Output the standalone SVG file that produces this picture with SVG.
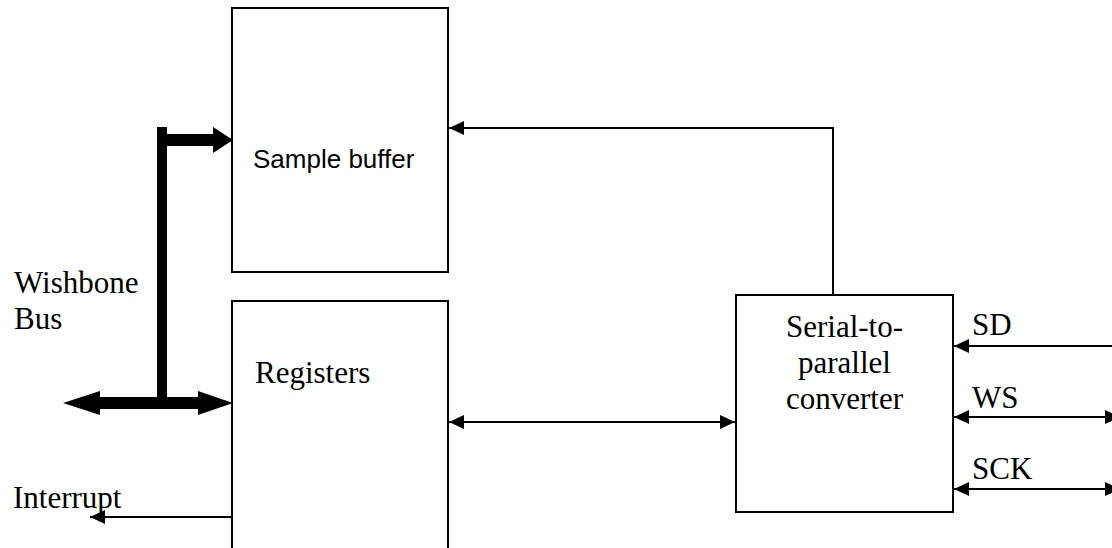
<svg xmlns="http://www.w3.org/2000/svg" width="1112" height="548" viewBox="0 0 1112 548">
<style>
.box{fill:#fff;stroke:#000;stroke-width:2}
.t{font-family:"Liberation Serif","Times New Roman",serif;font-size:31px;fill:#000}
.a{font-family:"Liberation Sans",Arial,sans-serif;font-size:26px;fill:#000}
.c{fill:none;stroke:#000;stroke-width:2}
.bus{fill:#000;stroke:none}
</style>
<defs>
<marker id="ah" markerUnits="userSpaceOnUse" markerWidth="16" markerHeight="14" refX="15" refY="7" orient="auto-start-reverse">
<path d="M0,0 L15,7 L0,14 Z" fill="#000"/>
</marker>
</defs>
<rect width="1112" height="548" fill="#fff"/>
<g id="sample-buffer">
<rect class="box" x="232" y="8" width="216" height="264"/>
<text class="a" x="253" y="168">Sample buffer</text>
</g>
<g id="registers">
<rect class="box" x="232" y="301" width="216" height="260"/>
<text class="t" x="255" y="383">Registers</text>
</g>
<g id="converter">
<rect class="box" x="736" y="295" width="217" height="217"/>
<text class="t" x="844.5" y="337" text-anchor="middle">Serial-to-</text>
<text class="t" x="844.5" y="373" text-anchor="middle">parallel</text>
<text class="t" x="844.5" y="409" text-anchor="middle">converter</text>
</g>
<g id="wishbone-bus">
<path class="bus" d="M157,127 H167 V134 H213 V127 L233,140 L213,153 V146 H167 V397 H198 V391 L233,403 L198,415 V409 H100 V415 L63,403 L100,391 V397 H157 Z"/>
<text class="t" x="14" y="293">Wishbone</text>
<text class="t" x="14" y="329">Bus</text>
</g>
<g id="labels">
<text class="t" x="13" y="508">Interrupt</text>
<text class="t" x="972" y="335">SD</text>
<text class="t" x="972" y="408">WS</text>
<text class="t" x="972" y="479">SCK</text>
</g>
<g id="connectors">
<path class="c" d="M833,295 V128 H449" marker-end="url(#ah)"/>
<path class="c" d="M449,422 H735" marker-start="url(#ah)" marker-end="url(#ah)"/>
<path class="c" d="M1112,346 H954" marker-end="url(#ah)"/>
<path class="c" d="M954,417 H1120" marker-start="url(#ah)" marker-end="url(#ah)"/>
<path class="c" d="M954,489 H1120" marker-start="url(#ah)" marker-end="url(#ah)"/>
<path class="c" d="M232,517 H90" marker-end="url(#ah)"/>
</g>
</svg>
